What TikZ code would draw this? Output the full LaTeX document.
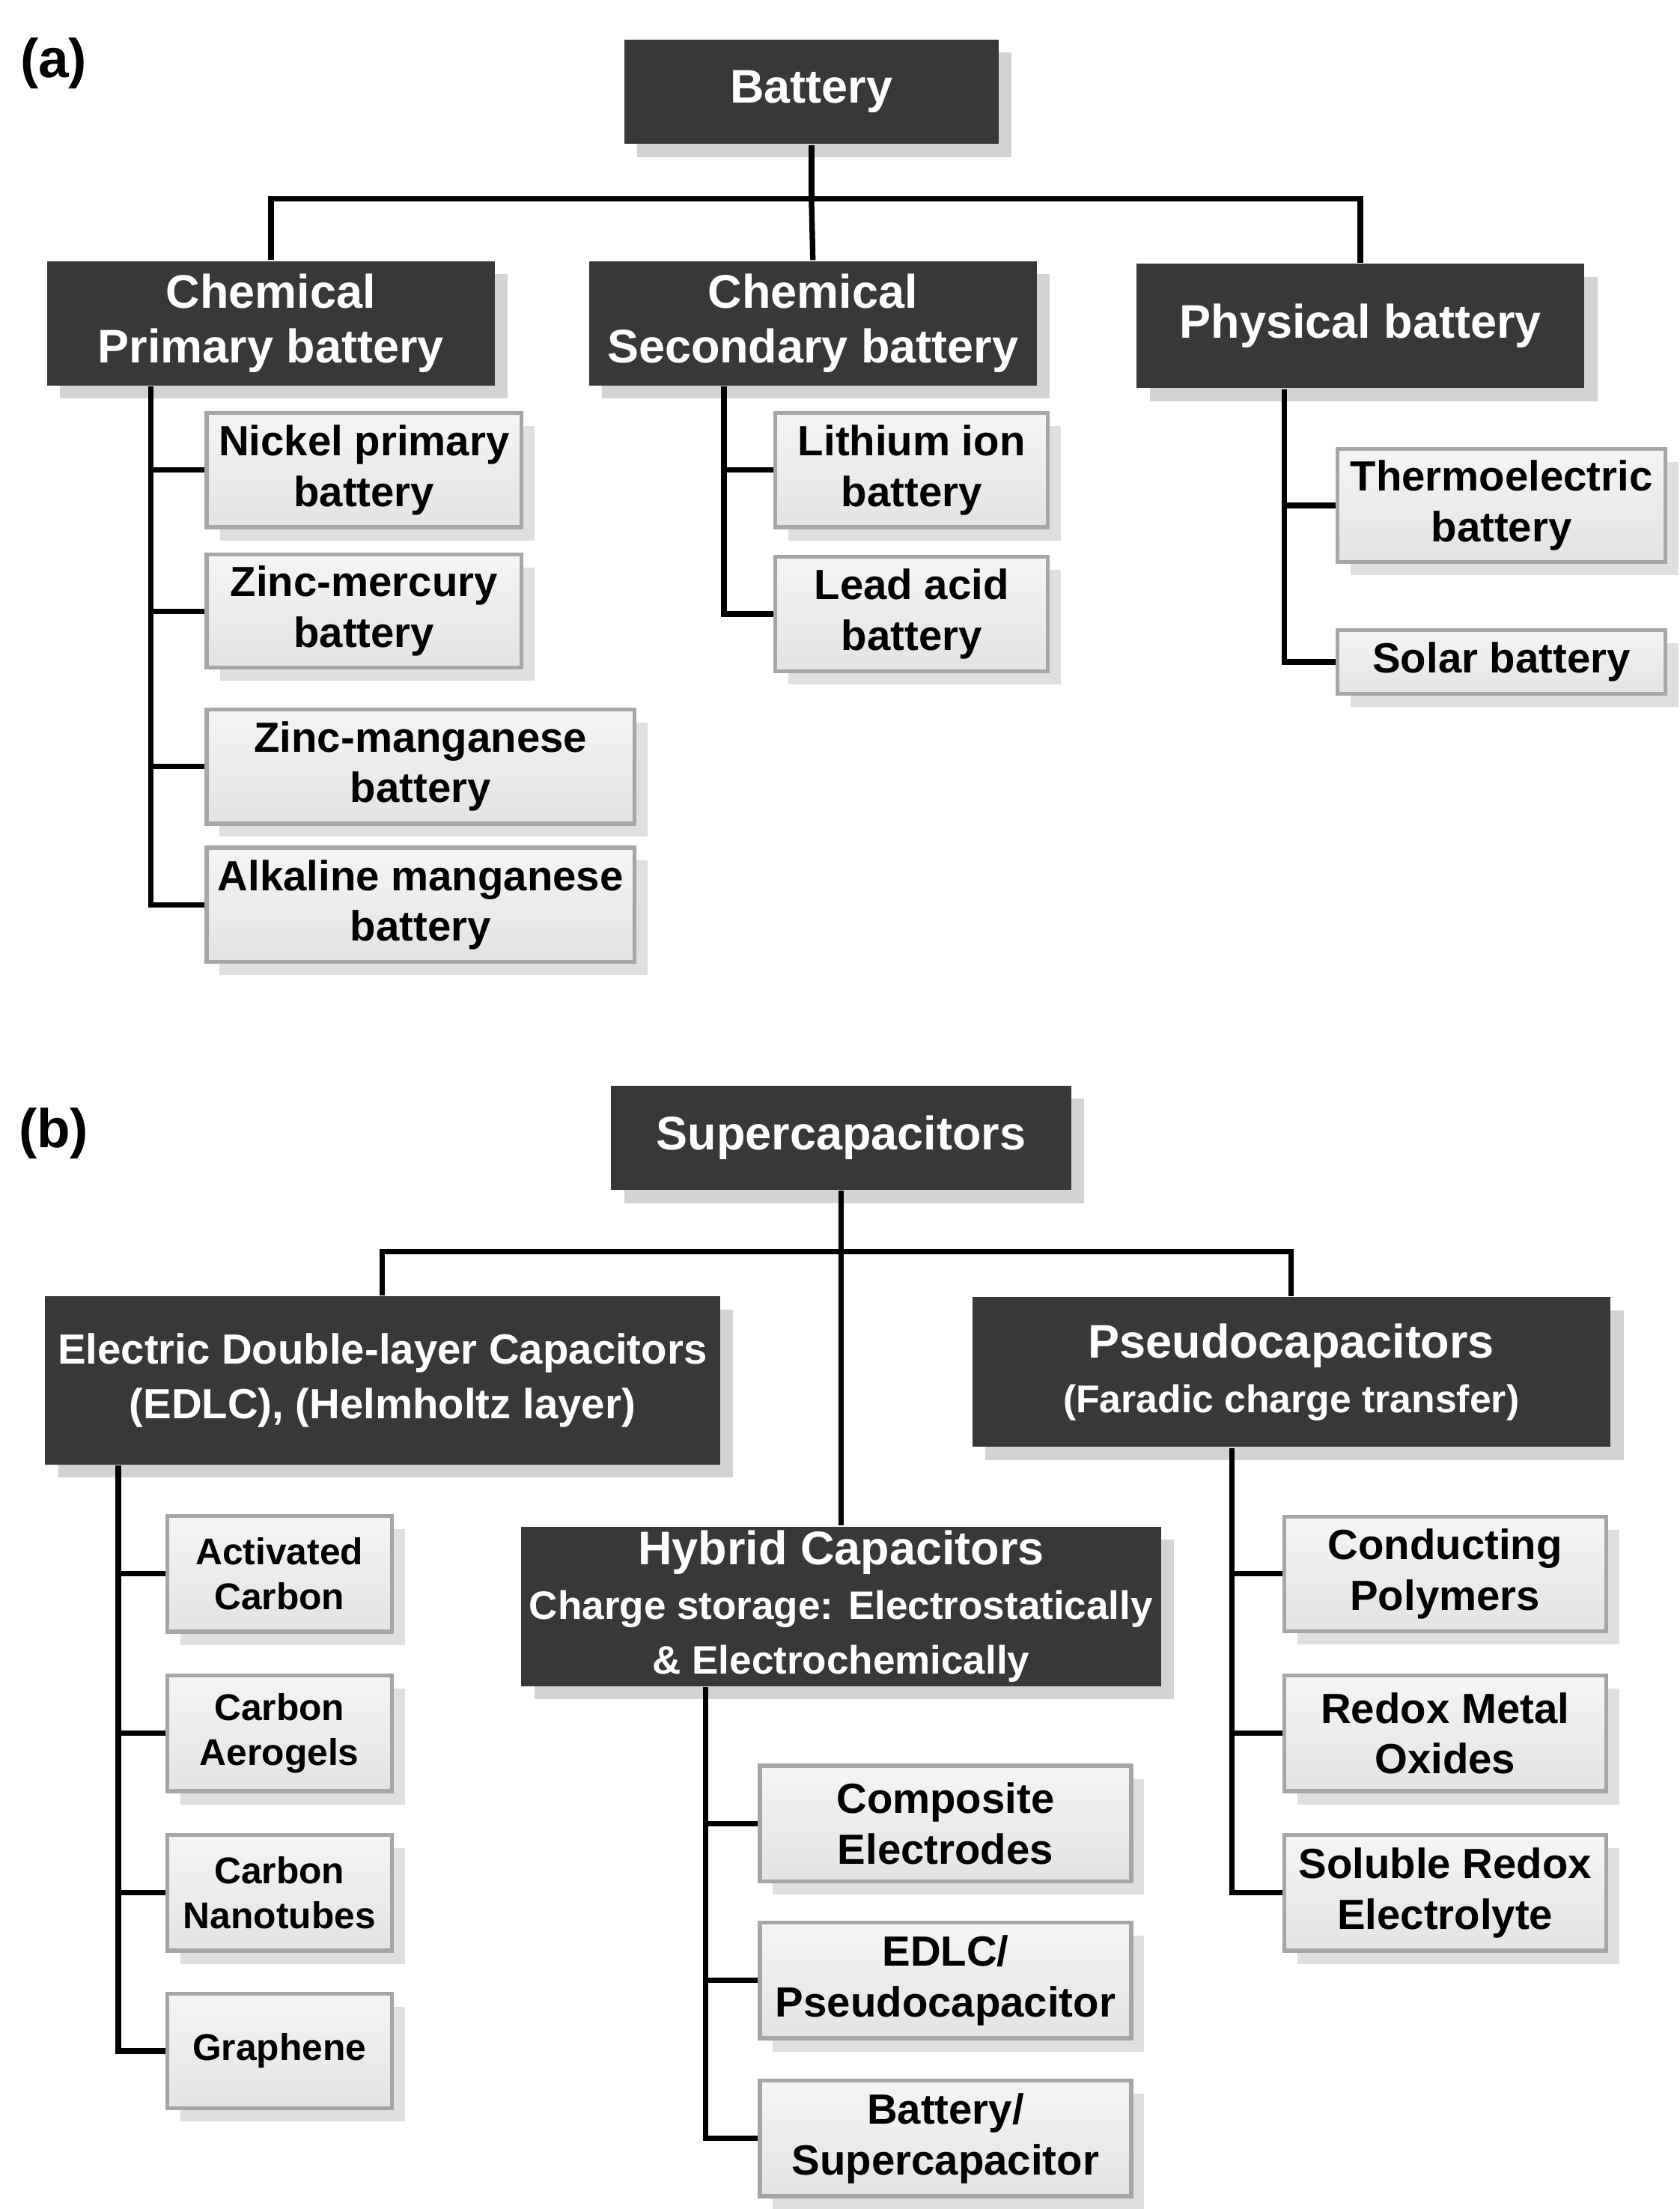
\documentclass[tikz,border=0pt]{standalone}
\usepackage{fontspec}
\setmainfont{Liberation Sans}
\usetikzlibrary{shadows}

\begin{document}
\begin{tikzpicture}[
	x=0.01cm, y=-0.01cm,
	head/.style={fill=black!78, text=white, font=\bfseries\fontsize{9.5}{11}\selectfont,
		align=center, inner sep=0pt, drop shadow={opacity=0.35}},
	leaf/.style={top color=gray!8, bottom color=gray!22, draw=gray!70, line width=0.8pt,
		font=\bfseries\fontsize{8.5}{10.2}\selectfont, align=center, inner sep=0pt,
		drop shadow={opacity=0.25}},
	tree/.style={line width=1.1pt},
	sub/.style={font=\bfseries\fontsize{7.5}{9}\selectfont}
	]
	\useasboundingbox (0,0) rectangle (1190,1565);
	% (a)
	\node[font=\bfseries\fontsize{11}{13}\selectfont] (la) at (38,45) {(a)};
	\node[head, minimum width=2.65cm, minimum height=0.74cm] (bat) at (575,65) {Battery};
	\node[head, minimum width=3.17cm, minimum height=0.88cm] (prim) at (192,229) {Chemical\\Primary battery};
	\node[head, minimum width=3.17cm, minimum height=0.88cm] (sec) at (576,229) {Chemical\\Secondary battery};
	\node[head, minimum width=3.17cm, minimum height=0.88cm] (phys) at (964,231) {Physical battery};
	\node[leaf, minimum width=2.23cm, minimum height=0.81cm] (nick) at (258,333) {Nickel primary\\battery};
	\node[leaf, minimum width=2.23cm, minimum height=0.80cm] (zmerc) at (258,433) {Zinc-mercury\\battery};
	\node[leaf, minimum width=3.03cm, minimum height=0.81cm] (zman) at (298,543) {Zinc-manganese\\battery};
	\node[leaf, minimum width=3.03cm, minimum height=0.81cm] (alk) at (298,641) {Alkaline manganese\\battery};
	\node[leaf, minimum width=1.93cm, minimum height=0.81cm] (li) at (646,333) {Lithium ion\\battery};
	\node[leaf, minimum width=1.93cm, minimum height=0.81cm] (lead) at (646,435) {Lead acid\\battery};
	\node[leaf, minimum width=2.32cm, minimum height=0.80cm] (thermo) at (1064,358) {Thermoelectric\\battery};
	\node[leaf, minimum width=2.32cm, minimum height=0.45cm] (solar) at (1064,469) {Solar battery};
	% lines (a)
	\draw[tree] (bat.south) -- ++(0,38) coordinate (busa);
	\draw[tree] (prim.north) |- (busa) -| (phys.north);
	\draw[tree] (busa) -- (sec.north);
	\draw[tree] ([xshift=-0.85cm]prim.south) |- (nick.west);
	\draw[tree] ([xshift=-0.85cm]prim.south) |- (zmerc.west);
	\draw[tree] ([xshift=-0.85cm]prim.south) |- (zman.west);
	\draw[tree] ([xshift=-0.85cm]prim.south) |- (alk.west);
	\draw[tree] ([xshift=-0.63cm]sec.south) |- (li.west);
	\draw[tree] ([xshift=-0.63cm]sec.south) |- (lead.west);
	\draw[tree] ([xshift=-0.54cm]phys.south) |- (thermo.west);
	\draw[tree] ([xshift=-0.54cm]phys.south) |- (solar.west);
	% (b)
	\node[font=\bfseries\fontsize{11}{13}\selectfont] (lb) at (38,803) {(b)};
	\node[head, minimum width=3.26cm, minimum height=0.74cm] (sc) at (596,806) {Supercapacitors};
	\node[head, minimum width=4.78cm, minimum height=1.19cm, font=\bfseries\fontsize{8.5}{11}\selectfont] (edlc) at (271,978) {Electric Double-layer Capacitors\\(EDLC), (Helmholtz layer)};
	\node[head, minimum width=4.52cm, minimum height=1.06cm] (pseudo) at (915,972) {Pseudocapacitors\\{\fontsize{7.8}{9}\selectfont (Faradic charge transfer)}};
	\node[head, minimum width=4.53cm, minimum height=1.13cm] (hyb) at (596,1138) {Hybrid Capacitors\\{\fontsize{8}{9.2}\selectfont Charge storage: Electrostatically}\\{\fontsize{8}{9.2}\selectfont \& Electrochemically}};
	\node[leaf, minimum width=1.59cm, minimum height=0.82cm, sub] (ac) at (198,1115) {Activated\\Carbon};
	\node[leaf, minimum width=1.59cm, minimum height=0.82cm, sub] (cae) at (198,1228) {Carbon\\Aerogels};
	\node[leaf, minimum width=1.59cm, minimum height=0.82cm, sub] (cnt) at (198,1341) {Carbon\\Nanotubes};
	\node[leaf, minimum width=1.59cm, minimum height=0.81cm, sub] (gr) at (198,1453) {Graphene};
	\node[leaf, minimum width=2.63cm, minimum height=0.82cm] (comp) at (670,1292) {Composite\\Electrodes};
	\node[leaf, minimum width=2.63cm, minimum height=0.82cm] (ep) at (670,1403) {EDLC/\\Pseudocapacitor};
	\node[leaf, minimum width=2.63cm, minimum height=0.82cm] (bs) at (670,1515) {Battery/\\Supercapacitor};
	\node[leaf, minimum width=2.28cm, minimum height=0.81cm] (cp) at (1024,1115) {Conducting\\Polymers};
	\node[leaf, minimum width=2.28cm, minimum height=0.82cm] (rmo) at (1024,1228) {Redox Metal\\Oxides};
	\node[leaf, minimum width=2.28cm, minimum height=0.82cm] (sre) at (1024,1341) {Soluble Redox\\Electrolyte};
	% lines (b)
	\draw[tree] (sc.south) -- ++(0,43) coordinate (busb);
	\draw[tree] (edlc.north) |- (busb) -| (pseudo.north);
	\draw[tree] (busb) -- (hyb.north);
	\draw[tree] ([xshift=-1.87cm]edlc.south) |- (ac.west);
	\draw[tree] ([xshift=-1.87cm]edlc.south) |- (cae.west);
	\draw[tree] ([xshift=-1.87cm]edlc.south) |- (cnt.west);
	\draw[tree] ([xshift=-1.87cm]edlc.south) |- (gr.west);
	\draw[tree] ([xshift=-0.96cm]hyb.south) |- (comp.west);
	\draw[tree] ([xshift=-0.96cm]hyb.south) |- (ep.west);
	\draw[tree] ([xshift=-0.96cm]hyb.south) |- (bs.west);
	\draw[tree] ([xshift=-0.42cm]pseudo.south) |- (cp.west);
	\draw[tree] ([xshift=-0.42cm]pseudo.south) |- (rmo.west);
	\draw[tree] ([xshift=-0.42cm]pseudo.south) |- (sre.west);
\end{tikzpicture}
\end{document}
